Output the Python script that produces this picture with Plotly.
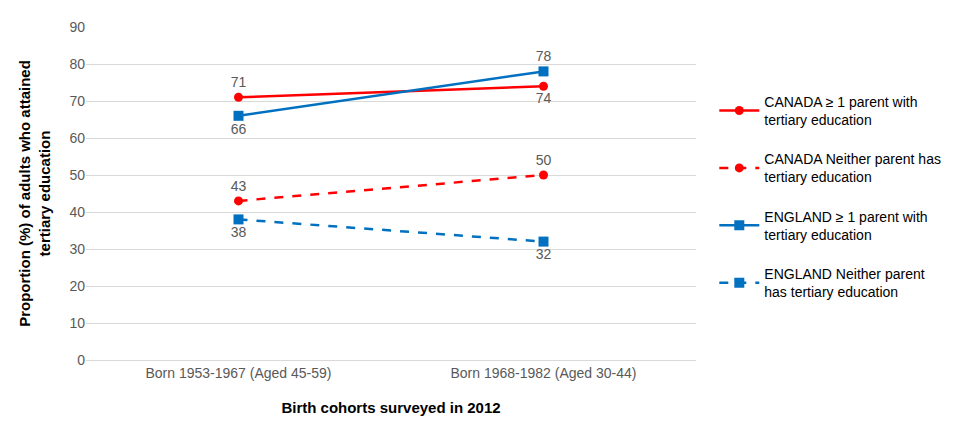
import plotly.graph_objects as go

cohorts = ["Born 1953-1967 (Aged 45-59)", "Born 1968-1982 (Aged 30-44)"]
canada_parent = [71, 74]
canada_neither = [43, 50]
england_parent = [66, 78]
england_neither = [38, 32]

red = "#FF0000"
blue = "#0070C0"
series = [
    ("CANADA ≥ 1 parent with<br>tertiary education", canada_parent, red, "solid", "circle", ["top center", "bottom center"]),
    ("CANADA Neither parent has<br>tertiary education", canada_neither, red, "dash", "circle", ["top center", "top center"]),
    ("ENGLAND ≥ 1 parent with<br>tertiary education", england_parent, blue, "solid", "square", ["bottom center", "top center"]),
    ("ENGLAND Neither parent<br>has tertiary education", england_neither, blue, "dash", "square", ["bottom center", "bottom center"]),
]

fig = go.Figure()
for i, (name, vals, col, dash, sym, pos) in enumerate(series):
    fig.add_trace(go.Scatter(
        x=cohorts, y=vals, name=name, mode="lines+markers+text", legendgroup=f"g{i}",
        text=[str(v) for v in vals], textposition=pos,
        textfont=dict(color="#595959", size=14),
        line=dict(color=col, width=2.5, dash=dash),
        marker=dict(color=col, symbol=sym, size=10 if sym == "square" else 9),
    ))

fig.update_layout(
    width=968, height=422, plot_bgcolor="white", paper_bgcolor="white",
    font=dict(family="Liberation Sans, Arial", size=14, color="#595959"),
    margin=dict(l=78, r=280, t=11, b=70),
    legend=dict(x=1.03, y=0.49, yanchor="middle", font=dict(size=14, color="#000000"),
                tracegroupgap=18, itemwidth=40),
    xaxis=dict(range=[-0.5, 1.5], showline=True, linecolor="#D9D9D9", ticks="",
               title=dict(text="<b>Birth cohorts surveyed in 2012</b>", font=dict(size=15, color="#000"), standoff=22)),
    yaxis=dict(range=[0, 90], dtick=10, gridcolor="#D9D9D9", zeroline=False,
               title=dict(text="<b>Proportion (%) of adults who attained<br>tertiary education</b>",
                          font=dict(size=15, color="#000"), standoff=15)),
    showlegend=True,
)
fig.write_html("out.html")
